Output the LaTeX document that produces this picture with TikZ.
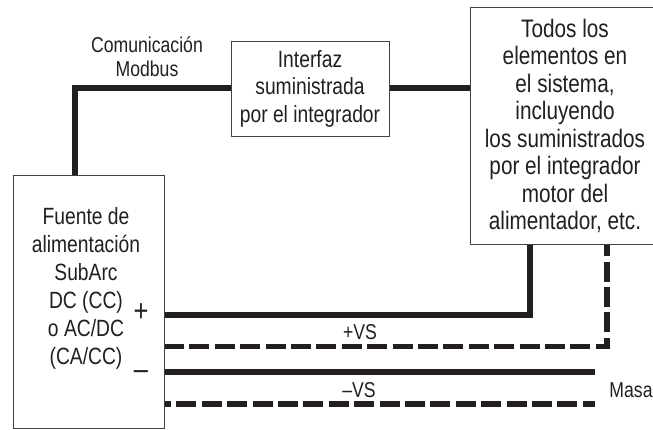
\documentclass[tikz,border=0pt]{standalone}
\usepackage{fontspec}
\setmainfont[FakeStretch=0.82]{Liberation Sans}
\definecolor{ink}{HTML}{231F20}
\tikzset{
  box/.style={draw=ink!85!white,line width=1.1pt,fill=white,inner sep=0pt,anchor=north west,align=center,text=ink},
  thick solid/.style={draw=ink,line width=5.4pt},
  thick dash/.style={draw=ink,line width=5.4pt,dash pattern=on 20pt off 5.4pt},
  lab/.style={inner sep=0pt,text=ink,align=center},
  big/.style={lab,font=\fontsize{23.5}{27.5}\selectfont},
  small/.style={lab,font=\fontsize{21.5}{24}\selectfont},
}
\begin{document}
\begin{tikzpicture}[x=1pt,y=-1pt]
\useasboundingbox (0,0) rectangle (653,429);
\fill[white] (0,0) rectangle (653,429);
\coordinate (a1) at (164,315);
\coordinate (a2) at (530,315);
\coordinate (b1) at (164,346.5);
\coordinate (b2) at (607,346.5);
\coordinate (c1) at (164,372);
\coordinate (c2) at (595,372);
\coordinate (d1) at (164,404);
\coordinate (d2) at (595,404);
\coordinate (m1) at (75,175);
\coordinate (m2) at (75,88);
\coordinate (i1) at (231,88);
\coordinate (i2) at (389,88);
\coordinate (t1) at (470,88);
\coordinate (t2) at (530,244);
\coordinate (t3) at (607,244);
\draw[thick solid,line join=miter] (m1) -- (m2) -- (i1);
\draw[thick solid] (i2) -- (t1);
\draw[thick solid,line join=miter] (a1) -- (a2) -- (t2);
\draw[thick dash] (b1) -- (b2) -- (t3);
\draw[thick solid] (c1) -- (c2);
\draw[thick dash,dash phase=13pt] (d1) -- (d2);
\node[box,minimum width=151pt,minimum height=253pt] (f) at (13,175) {};
\node[box,minimum width=158pt,minimum height=95pt] (i) at (231,41) {};
\node[box,minimum width=190pt,minimum height=237pt] (t) at (470,7) {};
\node[big,align=center,font=\fontsize{23.5}{28}\selectfont] at (86,288) {Fuente de\\alimentación\\SubArc\\DC (CC)\\o AC/DC\\(CA/CC)};
\node[big] at (310,88.5) {Interfaz\\suministrada\\por el integrador};
\node[lab,font=\fontsize{25.3}{27.5}\selectfont] at (565,126) {Todos los\\elementos en\\el sistema,\\incluyendo\\los suministrados\\por el integrador\\motor del\\alimentador, etc.};
\node[small] at (147,57) {Comunicación\\Modbus};
\node[small] at (360,332) {+VS};
\node[small] at (359,390) {–VS};
\node[small] at (631,390) {Masa};
\node[lab,font=\fontsize{31}{31}\selectfont] at (141,313) {+};
\node[lab,font=\fontsize{31}{31}\selectfont] at (141,375) {–};
\end{tikzpicture}
\end{document}
